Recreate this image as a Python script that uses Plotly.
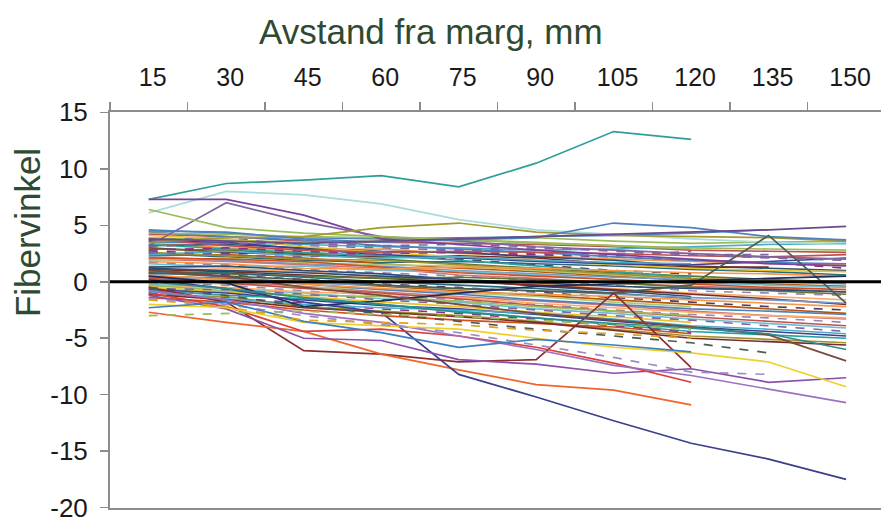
import plotly.graph_objects as go

# ---------------- data ----------------
x_labels = ["15", "30", "45", "60", "75", "90", "105", "120", "135", "150"]
y_ticks = [15, 10, 5, 0, -5, -10, -15, -20]
y_tick_text = ["15", "10", "5", "0", "-5", "-10", "-15", "-20"]

# distinctive individual curves (fibre angle per distance)
teal_line = [7.3, 8.7, 9.0, 9.4, 8.4, 10.5, 13.3, 12.6, None, None]
light_cyan = [6.1, 8.0, 7.7, 6.9, 5.5, 4.6, 4.2, 3.8, 3.5, 3.3]
purple_a = [7.3, 7.3, 5.9, 3.8, 3.3, 2.8, 2.4, 2.0, 1.6, 1.4]
purple_b = [3.2, 7.0, 5.3, 4.0, 3.6, 3.1, 2.8, 2.5, 2.2, 2.0]
green_line = [6.4, 4.8, 4.3, 4.0, 3.7, 3.5, 3.2, 2.9, None, None]
olive_line = [3.5, 3.9, 4.0, 4.8, 5.2, 4.4, 4.1, 4.0, 3.9, 3.6]
blue_peak = [4.5, 4.4, 3.8, 3.5, 3.7, 3.9, 5.2, 4.8, 4.0, 3.7]
purple_top = [3.8, 3.6, 3.4, 3.6, 3.8, 4.0, 4.2, 4.4, 4.6, 4.9]
dashed_purple = [2.6, 2.4, 2.2, 2.5, 2.8, 3.0, 2.8, 2.4, 2.4, None]
peak135 = [0.8, 0.5, 0.2, -0.3, -0.6, -0.8, -1.0, -0.3, 4.1, -1.9]
dark_navy = [0.5, -0.1, -2.2, -1.7, -1.0, -0.4, -0.2, 0.1, 0.3, 0.5]
maroon = [-0.5, -1.8, -6.1, -6.4, -7.1, -6.9, -1.0, -7.6, None, None]
orange = [-2.7, -3.6, -4.4, -6.4, -7.8, -9.1, -9.6, -10.9, None, None]
navy = [0.2, -0.6, -1.8, -2.7, -8.2, -10.2, -12.3, -14.3, -15.7, -17.5]
purple_c = [-1.2, -2.4, -5.0, -5.2, -6.9, -7.3, -8.1, -7.7, -8.9, -8.5]
red_line = [-1.0, -2.2, -4.4, -4.2, -4.8, -5.8, -7.2, -8.9, None, None]
violet = [-0.8, -1.6, -2.8, -3.6, -4.8, -6.0, -7.4, -8.3, -9.5, -10.7]
yellow = [-2.0, -2.3, -3.6, -3.9, -4.2, -5.0, -5.8, -6.3, -7.1, -9.3]
brown_e = [1.0, 0.5, -0.5, -1.2, -2.0, -2.8, -3.4, -4.0, -4.7, -7.0]
teal_low = [0.0, -0.6, -1.4, -2.0, -2.7, -3.2, -3.7, -4.1, -4.6, -6.0]
dashed_dark = [-0.5, -1.2, -2.2, -2.8, -3.5, -4.2, -4.8, -5.4, -6.3, None]
dashed_lav = [-1.5, -2.0, -3.0, -3.8, -4.5, -5.6, -6.7, -8.0, -8.2, None]
blue_h = [-2.3, -1.8, -3.5, -4.5, -5.8, -5.1, -5.6, -6.2, None, None]
green_dash = [-3.0, -2.8, -2.6, -2.9, -3.1, -3.4, -3.8, -4.2, None, None]
gold_dash = [-1.6, -2.2, -3.4, -3.6, -3.8, -4.3, -4.6, -5.0, None, None]

# the dense band of remaining curves
band_upper = [
    [4.6, 4.3, 3.9, 3.8, 3.9, 4.0, 4.1, 4.3, 4.6, None],
    [4.2, 4.0, 3.6, 3.5, 3.4, 3.3, 3.1, 2.8, 2.7, 2.6],
    [3.9, 3.7, 3.5, 3.6, 3.8, 3.9, 3.6, 3.4, 3.5, 3.6],
    [3.7, 3.9, 3.2, 3.0, 2.8, 2.5, 2.3, 2.7, None, None],
    [3.5, 3.4, 3.3, 3.1, 3.0, 2.8, 2.9, 3.1, 3.3, 3.4],
    [3.4, 3.0, 2.8, 2.9, 2.5, 2.3, 2.0, 1.8, 1.6, 1.5],
    [3.2, 3.3, 3.0, 2.7, 2.6, 2.2, 1.9, 1.4, 1.2, 1.0],
    [3.0, 2.6, 2.4, 2.2, 2.3, 2.1, 1.6, 1.3, 1.3, None],
    [2.9, 2.8, 2.5, 2.0, 1.6, 1.2, 0.8, 0.5, 0.2, 0.0],
    [2.7, 2.5, 2.6, 2.4, 2.0, 1.5, 1.0, 0.7, None, None],
    [2.5, 2.2, 1.9, 1.7, 1.8, 1.6, 1.4, 1.1, 0.9, 0.6],
    [2.3, 2.4, 2.1, 1.6, 1.2, 0.9, 0.5, 0.1, -0.2, -0.4],
    [2.2, 1.9, 1.6, 1.4, 1.0, 0.7, 0.4, 0.2, 0.0, -0.2],
    [2.0, 1.8, 1.5, 1.2, 0.6, 0.3, -0.1, -0.4, -0.6, -0.9],
    [1.9, 2.1, 1.7, 1.5, 1.4, 1.0, 0.6, 0.3, None, None],
    [1.7, 1.5, 1.1, 0.8, 0.5, 0.1, -0.3, -0.8, -1.0, -1.2],
    [1.6, 1.3, 1.4, 1.0, 0.9, 0.6, 0.2, -0.1, -0.3, -0.5],
    [1.4, 1.2, 0.9, 0.4, 0.1, -0.2, -0.6, -1.0, -1.3, -1.6],
    [4.1, 3.8, 3.1, 2.6, 2.2, 1.9, 1.5, 1.2, 1.0, 0.9],
    [3.6, 3.5, 2.9, 2.4, 2.1, 1.8, 1.6, 1.5, 1.8, 2.1],
    [3.3, 2.9, 2.6, 2.3, 1.9, 1.4, 0.9, 0.4, None, None],
    [2.8, 3.0, 2.7, 2.5, 2.6, 2.4, 2.2, 1.9, 1.7, 1.2],
    [2.6, 2.3, 2.0, 1.9, 1.5, 1.1, 0.7, 0.3, 0.1, -0.1],
    [2.1, 2.0, 1.8, 1.3, 0.8, 0.5, 0.2, -0.2, -0.5, -0.7],
    [4.4, 4.0, 3.7, 3.2, 2.9, 2.6, 2.2, 1.9, 1.7, 1.6],
    [3.8, 3.2, 2.8, 2.6, 2.7, 2.6, 2.5, 2.3, 2.2, 2.4],
    [4.3, 4.2, 4.0, 3.9, 3.7, 3.4, 3.2, 3.0, 2.9, 2.8],
    [3.1, 3.4, 3.4, 3.2, 3.3, 3.1, 2.7, 2.4, 2.1, 1.9],
    [2.4, 2.7, 2.3, 2.1, 2.2, 1.9, 1.7, 1.6, None, None],
    [1.8, 1.6, 1.2, 1.1, 1.3, 1.2, 1.0, 0.8, 0.7, 0.5],
]
band_lower = [
    [1.3, 1.4, 1.0, 0.7, 0.2, -0.4, -0.8, -1.3, None, None],
    [1.1, 0.9, 0.6, 0.3, 0.0, -0.3, -0.7, -1.1, -1.5, -2.0],
    [1.0, 0.7, 0.5, 0.3, 0.4, 0.2, -0.1, -0.5, -0.8, -1.1],
    [0.8, 0.6, 0.2, -0.2, -0.5, -0.9, -1.4, -1.8, -2.2, -2.5],
    [0.7, 0.8, 0.4, 0.0, -0.3, -0.6, -1.0, -1.5, None, None],
    [0.5, 0.3, 0.0, -0.4, -0.8, -1.2, -1.6, -2.0, -2.4, -2.8],
    [0.4, 0.2, -0.1, -0.3, -0.6, -0.8, -1.1, -1.4, -1.6, -1.9],
    [0.2, 0.0, -0.4, -0.9, -1.3, -1.7, -2.1, -2.6, -3.0, -3.3],
    [0.1, -0.2, -0.5, -0.6, -1.0, -1.3, -1.8, -2.2, None, None],
    [-0.1, -0.3, -0.8, -1.2, -1.6, -2.0, -2.5, -2.9, -3.2, -3.6],
    [-0.2, -0.6, -1.0, -1.5, -1.8, -2.4, -2.8, -3.3, -3.7, -4.1],
    [-0.4, -0.5, -0.9, -1.1, -1.4, -1.9, -2.3, -2.7, -3.0, -3.2],
    [-0.5, -0.9, -1.3, -1.8, -2.2, -2.7, -3.1, -3.6, None, None],
    [-0.7, -1.0, -1.6, -2.1, -2.4, -2.9, -3.5, -4.0, -4.4, -4.8],
    [-0.8, -1.2, -1.5, -2.0, -2.6, -3.2, -3.8, -4.4, -4.7, -5.0],
    [-1.0, -1.4, -1.9, -2.4, -2.8, -3.3, -3.9, -4.5, None, None],
    [-1.2, -1.3, -2.2, -2.6, -3.0, -3.5, -4.2, -4.8, -5.1, -5.4],
    [-1.4, -1.8, -2.5, -3.0, -3.4, -3.7, -4.0, -4.6, None, None],
    [0.9, 0.4, -0.2, -0.7, -1.1, -1.6, -2.0, -2.4, -2.6, -2.9],
    [0.3, -0.1, -0.6, -1.0, -1.5, -2.1, -2.6, -3.1, -3.5, -3.9],
    [-0.3, -0.8, -1.2, -1.3, -1.7, -2.2, -2.6, -3.0, None, None],
    [-0.6, -0.7, -1.1, -1.6, -2.0, -2.5, -3.0, -3.4, -3.9, -4.4],
    [-0.9, -1.5, -2.0, -2.3, -2.5, -2.8, -3.3, -3.9, -4.2, -4.6],
    [0.6, 0.2, -0.2, -0.6, -0.9, -1.1, -1.3, -1.6, -1.9, -2.2],
    [1.2, 1.0, 0.8, 0.5, 0.2, -0.1, -0.4, -0.6, -0.7, -0.9],
    [-1.1, -1.6, -2.3, -2.7, -3.1, -3.6, -4.3, -5.0, -5.3, -5.6],
]

# ---------------- styles (kept apart from the data) ----------------
named = [
    (teal_line, "#2E9E9A", "solid"), (light_cyan, "#A9DCDA", "solid"),
    (purple_a, "#7B3F9E", "solid"), (purple_b, "#8064A2", "solid"),
    (green_line, "#9BBB59", "solid"), (olive_line, "#A59A2F", "solid"),
    (blue_peak, "#4F81BD", "solid"), (purple_top, "#6A4A8A", "solid"),
    (dashed_purple, "#8064A2", "dash"), (peak135, "#4B5E50", "solid"),
    (dark_navy, "#1F2D5A", "solid"), (maroon, "#8B2E2E", "solid"),
    (orange, "#F0642D", "solid"), (navy, "#3B3F8C", "solid"),
    (purple_c, "#8A4FA8", "solid"), (red_line, "#D9403A", "solid"),
    (violet, "#A070C0", "solid"), (yellow, "#EFD02A", "solid"),
    (brown_e, "#7A4A3A", "solid"), (teal_low, "#2A8C8C", "solid"),
    (dashed_dark, "#4A5A52", "dash"), (dashed_lav, "#9C8CC0", "dash"),
    (blue_h, "#3C7FC0", "solid"), (green_dash, "#9BBB59", "dash"),
    (gold_dash, "#E0A020", "dash"),
]
palette = ["#4F81BD", "#C0504D", "#9BBB59", "#8064A2", "#4BACC6", "#F79646",
           "#2C4D75", "#772C2A", "#5F7530", "#4D3B62", "#276A7C", "#B65708",
           "#729ACA", "#CD7371", "#AFC97A", "#9983B5", "#6FBDD1", "#F9AB6B",
           "#E8C22A", "#3A3F8F", "#2AA0A0", "#8B2D8B", "#A0902F", "#D04F1E"]

fig = go.Figure()

band = band_upper + band_lower
for i, vals in enumerate(band):
    dash = "dash" if i % 6 == 3 else "solid"
    fig.add_trace(go.Scatter(x=x_labels, y=vals, mode="lines",
                             line=dict(color=palette[i % len(palette)], width=1.6, dash=dash),
                             connectgaps=False, hoverinfo="skip", showlegend=False))
for vals, col, dash in named:
    fig.add_trace(go.Scatter(x=x_labels, y=vals, mode="lines",
                             line=dict(color=col, width=1.7, dash=dash),
                             connectgaps=False, hoverinfo="skip", showlegend=False))

axis_grey = "#8C8C8C"
title_green = "#2E4A30"
font_family = "Liberation Sans, Arial, sans-serif"

fig.update_layout(
    width=881, height=518,
    margin=dict(l=110, r=0, t=112, b=10, autoexpand=False),
    paper_bgcolor="white", plot_bgcolor="white",
    showlegend=False,
    font=dict(family=font_family, color="#1a1a1a"),
    xaxis=dict(
        type="category", categoryorder="array", categoryarray=x_labels,
        side="top", range=[-0.5, 9.45], automargin=False,
        tickson="boundaries", ticks="outside", ticklen=8, tickwidth=1.5,
        tickcolor=axis_grey, showline=True, linecolor=axis_grey, linewidth=2,
        mirror=True, showgrid=False, zeroline=False,
        tickfont=dict(size=25, color="#1a1a1a", family=font_family),
        ticklabelstandoff=14, ticklabelshift=4, ticklabeloverflow="allow",
    ),
    yaxis=dict(
        range=[-20.03, 15.03], tickvals=y_ticks, ticktext=y_tick_text,
        ticks="outside", ticklen=8, automargin=False,
        tickwidth=1.5, tickcolor=axis_grey, showline=True, linecolor=axis_grey,
        linewidth=2, showgrid=False, zeroline=False,
        tickfont=dict(size=26, color="#1a1a1a", family=font_family),
        ticklabelstandoff=7, ticklabeloverflow="allow",
    ),
    shapes=[dict(type="line", xref="paper", yref="y", x0=0, x1=1, y0=0, y1=0,
                 line=dict(color="black", width=3), layer="above")],
    annotations=[
        dict(text="Avstand fra marg, mm", xref="paper", yref="paper",
             x=0.416, y=1.1995, xanchor="center", yanchor="middle", yshift=1,
             showarrow=False, font=dict(size=35, color=title_green, family=font_family)),
        dict(text="Fibervinkel", xref="paper", yref="paper",
             x=-0.106, y=0.70, xanchor="center", yanchor="middle", textangle=-90,
             xshift=0, yshift=-2,
             showarrow=False, font=dict(size=35, color=title_green, family=font_family)),
    ],
)

fig.write_html("out.html", config={"displayModeBar": False, "staticPlot": True})

# remove the default page margin so the figure sits at the window's origin
with open("out.html", "r", encoding="utf-8") as fh:
    html = fh.read()
html = html.replace("<head>", "<head><style>html,body{margin:0;padding:0;overflow:hidden;}</style>", 1)
with open("out.html", "w", encoding="utf-8") as fh:
    fh.write(html)
